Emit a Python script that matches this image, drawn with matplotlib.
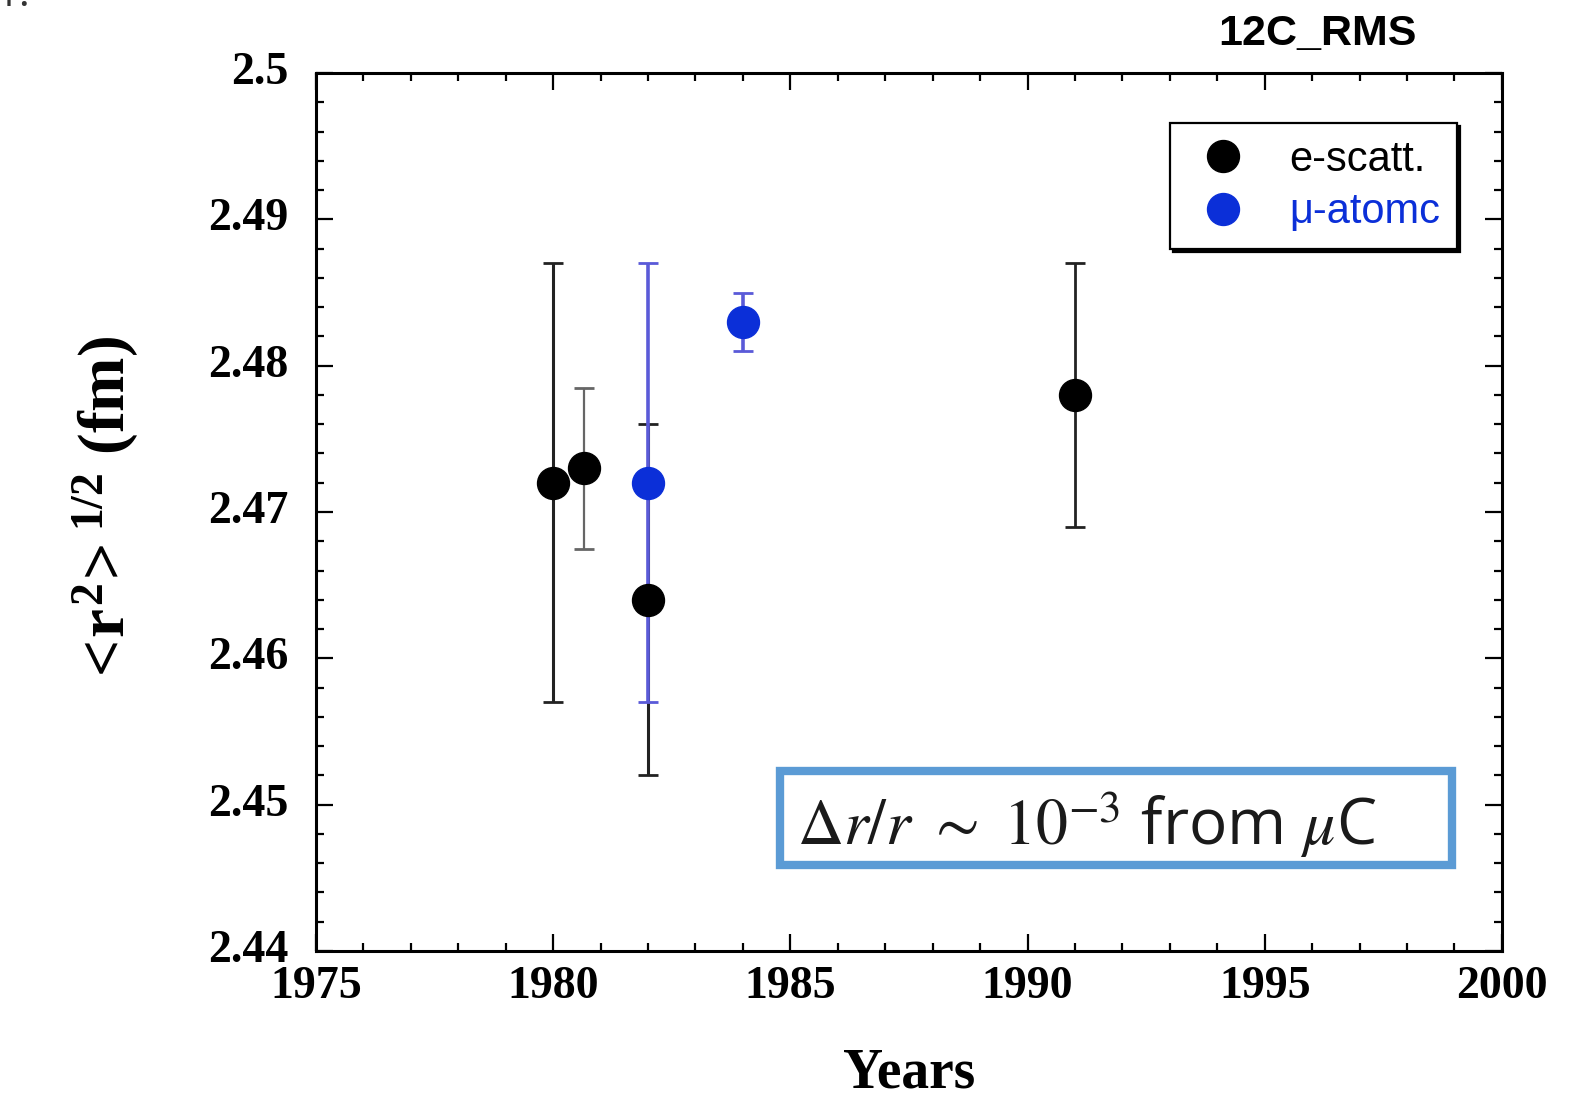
import matplotlib
matplotlib.use("Agg")
import matplotlib.pyplot as plt
import matplotlib.transforms as mtransforms
from matplotlib.lines import Line2D
from matplotlib.patches import Rectangle
from matplotlib.ticker import MultipleLocator

# 12C rms charge radius measurements
years_e = [1980, 1980.65, 1982, 1991]
radius_e = [2.472, 2.473, 2.464, 2.478]
err_e = [0.015, 0.0055, 0.012, 0.009]

years_mu = [1982, 1984]
radius_mu = [2.472, 2.483]
err_mu = [0.015, 0.002]

xticks = [1975, 1980, 1985, 1990, 1995, 2000]
yticks = [2.44, 2.45, 2.46, 2.47, 2.48, 2.49, 2.5]
ytick_labels = ["2.44", "2.45", "2.46", "2.47", "2.48", "2.49", "2.5"]

serif = "Liberation Serif"
sans = "Liberation Sans"
blue = "#0b2fd8"

# bold serif for the axis label maths
plt.rcParams["mathtext.rm"] = "Liberation Serif:bold"
plt.rcParams["mathtext.it"] = "Liberation Serif:bold"
plt.rcParams["mathtext.bf"] = "Liberation Serif:bold"

fig = plt.figure(figsize=(15.87, 10.98), dpi=100)
ax = fig.add_axes([0.1991, 0.1339, 0.7473, 0.7996])

# black error bars first, blue bar goes over them
bar_colors = ["#222222", "#666666", "#222222", "#222222"]
bar_widths = [2.2, 1.6, 2.2, 2.0]
for x, y, e, c, w in zip(years_e, radius_e, err_e, bar_colors, bar_widths):
    ax.errorbar(x, y, yerr=e, fmt="none", ecolor=c, elinewidth=w,
                capsize=7, capthick=2, zorder=2)
for x, y, e in zip(years_mu, radius_mu, err_mu):
    ax.errorbar(x, y, yerr=e, fmt="none", ecolor="#5a5ad8", elinewidth=2.6,
                capsize=7, capthick=2, zorder=3)

ax.plot(years_mu, radius_mu, "o", color=blue, markersize=23, mec=blue, zorder=4)
ax.plot(years_e, radius_e, "o", color="black", markersize=23, mec="black", zorder=5)

ax.set_xlim(1975, 2000)
ax.set_ylim(2.44, 2.5)
ax.set_xticks(xticks)
ax.xaxis.set_minor_locator(MultipleLocator(1))
ax.set_yticks(yticks)
ax.set_yticklabels(ytick_labels)
ax.yaxis.set_minor_locator(MultipleLocator(0.002))

ax.tick_params(which="both", direction="in", top=True, right=True, width=1.6)
ax.tick_params(which="major", length=12)
ax.tick_params(which="minor", length=6)
ax.tick_params(axis="x", pad=11)
ax.tick_params(axis="y", pad=20)
for lab in ax.get_xticklabels() + ax.get_yticklabels():
    lab.set_fontfamily(serif)
    lab.set_fontweight("bold")
    lab.set_fontsize(33)
# y labels sit a little above their ticks
lift = mtransforms.ScaledTranslation(0, 0.05, fig.dpi_scale_trans)
for lab in ax.get_yticklabels():
    lab.set_transform(lab.get_transform() + lift)
for s in ax.spines.values():
    s.set_linewidth(2.2)

ax.set_xlabel("Years", fontfamily=serif, fontweight="bold", fontsize=40, labelpad=28)
ax.set_ylabel(r"$<\!r^{2}\!>^{1/2}$ (fm)", fontfamily=serif, fontweight="bold",
              fontsize=47, labelpad=48, math_fontfamily="custom")

fig.text(0.830, 0.969, "12C_RMS", fontfamily=sans, fontweight="bold", fontsize=31,
         ha="center", va="center")

handles = [
    Line2D([], [], marker="o", ls="none", color="black", markersize=23),
    Line2D([], [], marker="o", ls="none", color=blue, markersize=23),
]
leg = ax.legend(handles, ["e-scatt.", "\u03bc-atomc"], loc="upper right",
                bbox_to_anchor=(0.962, 0.943), borderaxespad=0, fancybox=False,
                shadow={"color": "black", "alpha": 1.0}, edgecolor="black",
                framealpha=1, prop={"family": sans, "size": 30},
                handletextpad=0.75, borderpad=0.4, labelspacing=0.3, handlelength=1.7)
leg.get_frame().set_linewidth(1.6)
leg.get_texts()[1].set_color(blue)

ax.add_patch(Rectangle((0.391, 0.098), 0.567, 0.107, transform=ax.transAxes,
                       fill=True, fc="white", ec="#5b9bd5", lw=6, clip_on=False, zorder=6))
ax.text(0.406, 0.121, r"$\Delta r/r\ \sim\ 10^{-3}$ from $\mu$C", transform=ax.transAxes,
        fontfamily="Open Sans", fontsize=46, math_fontfamily="stix", color="#1a1a1a",
        ha="left", va="baseline", zorder=7)

fig.text(-0.003, 1.005, "1.", fontfamily="Open Sans", fontsize=30, color="#333333",
         ha="left", va="center")

fig.savefig("out.png", dpi=100)
